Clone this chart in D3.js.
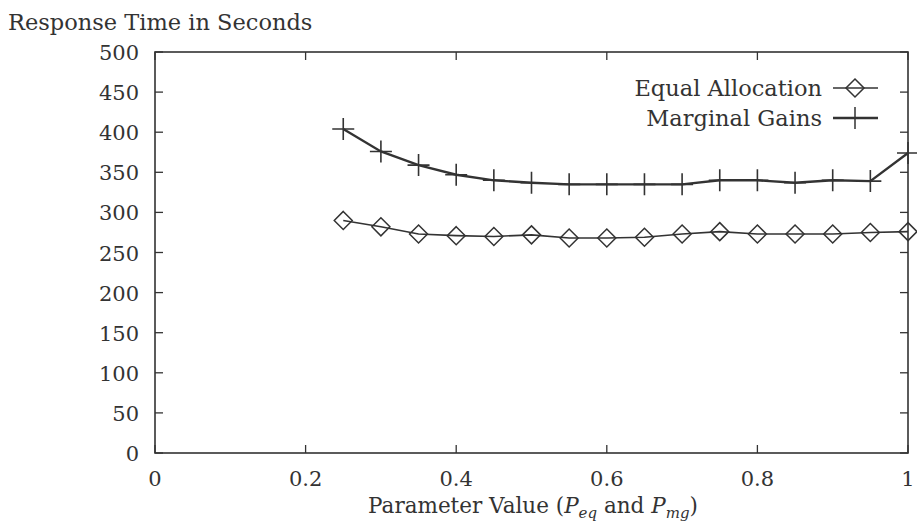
<!DOCTYPE html>
<html>
<head>
<meta charset="utf-8">
<script src="https://cdn.jsdelivr.net/npm/d3@7"></script>
<style>
  body { margin: 0; background: #fff; }
  svg { display: block; font-family: "DejaVu Serif", "Liberation Serif", serif; }
  text { fill: #333; }
</style>
</head>
<body>
<svg id="chart" width="917" height="524"></svg>
<script>
const params = [0.25, 0.30, 0.35, 0.40, 0.45, 0.50, 0.55, 0.60, 0.65, 0.70, 0.75, 0.80, 0.85, 0.90, 0.95, 1.00];
const equalAllocation = [290, 282, 273, 271, 270, 272, 268, 268, 269, 273, 276, 273, 273, 273, 275, 276];
const marginalGains = [404, 376, 359, 347, 340, 337, 335, 335, 335, 335, 340, 340, 337, 340, 339, 374];
const xTicks = [0, 0.2, 0.4, 0.6, 0.8, 1];
const yTicks = [0, 50, 100, 150, 200, 250, 300, 350, 400, 450, 500];

const ink = '#333';
const svg = d3.select('#chart');
const margin = { top: 52, right: 9, bottom: 71, left: 155 };
const width = 917;
const height = 524;

const x = d3.scaleLinear().domain([0, 1]).range([margin.left, width - margin.right]);
const y = d3.scaleLinear().domain([0, 500]).range([height - margin.bottom, margin.top]);

// frame
svg.append('rect')
  .attr('x', x(0)).attr('y', y(500))
  .attr('width', x(1) - x(0)).attr('height', y(0) - y(500))
  .attr('fill', 'none').attr('stroke', ink).attr('stroke-width', 1.6);

// ticks, inward on all four sides
const tickLen = 8;
svg.append('g').selectAll('line').data(xTicks).join('line')
  .attr('x1', d => x(d)).attr('x2', d => x(d))
  .attr('y1', y(0)).attr('y2', y(0) - tickLen)
  .attr('stroke', ink).attr('stroke-width', 1.3);
svg.append('g').selectAll('line').data(xTicks).join('line')
  .attr('x1', d => x(d)).attr('x2', d => x(d))
  .attr('y1', y(500)).attr('y2', y(500) + tickLen)
  .attr('stroke', ink).attr('stroke-width', 1.3);
svg.append('g').selectAll('line').data(yTicks).join('line')
  .attr('x1', x(0)).attr('x2', x(0) + tickLen)
  .attr('y1', d => y(d)).attr('y2', d => y(d))
  .attr('stroke', ink).attr('stroke-width', 1.3);
svg.append('g').selectAll('line').data(yTicks).join('line')
  .attr('x1', x(1)).attr('x2', x(1) - tickLen)
  .attr('y1', d => y(d)).attr('y2', d => y(d))
  .attr('stroke', ink).attr('stroke-width', 1.3);

// tick labels
svg.append('g').selectAll('text').data(xTicks).join('text')
  .attr('x', d => x(d)).attr('y', y(0) + 33)
  .attr('text-anchor', 'middle').attr('font-size', 21)
  .text(d => d);
svg.append('g').selectAll('text').data(yTicks).join('text')
  .attr('x', x(0) - 16).attr('y', d => y(d) + 8)
  .attr('text-anchor', 'end').attr('font-size', 21)
  .text(d => d);

// axis titles
svg.append('text')
  .attr('x', 8).attr('y', 30).attr('font-size', 22.5)
  .text('Response Time in Seconds');

const xl = svg.append('text')
  .attr('x', 533).attr('y', 513).attr('text-anchor', 'middle').attr('font-size', 21.5);
xl.append('tspan').text('Parameter Value (');
xl.append('tspan').attr('font-style', 'italic').text('P');
xl.append('tspan').attr('font-style', 'italic').attr('font-size', 15).attr('dy', 5).text('eq');
xl.append('tspan').attr('dy', -5).text(' and ');
xl.append('tspan').attr('font-style', 'italic').text('P');
xl.append('tspan').attr('font-style', 'italic').attr('font-size', 15).attr('dy', 5).text('mg');
xl.append('tspan').attr('dy', -5).text(')');

// series
const line = d3.line().x(d => x(d[0])).y(d => y(d[1]));
const eqData = params.map((p, i) => [p, equalAllocation[i]]);
const mgData = params.map((p, i) => [p, marginalGains[i]]);

svg.append('path').datum(eqData).attr('d', line)
  .attr('fill', 'none').attr('stroke', ink).attr('stroke-width', 1.6);
svg.append('path').datum(mgData).attr('d', line)
  .attr('fill', 'none').attr('stroke', ink).attr('stroke-width', 2.4);

const diamond = (cx, cy, r) => `M${cx},${cy - r}L${cx + r},${cy}L${cx},${cy + r}L${cx - r},${cy}Z`;
const plus = (cx, cy, r) => `M${cx - r},${cy}H${cx + r}M${cx},${cy - r}V${cy + r}`;

svg.append('g').selectAll('path').data(eqData).join('path')
  .attr('d', d => diamond(x(d[0]), y(d[1]), 9))
  .attr('fill', 'none').attr('stroke', ink).attr('stroke-width', 1.5);
svg.append('g').selectAll('path').data(mgData).join('path')
  .attr('d', d => plus(x(d[0]), y(d[1]), 11))
  .attr('fill', 'none').attr('stroke', ink).attr('stroke-width', 1.6);

// legend
const legend = [
  { label: 'Equal Allocation', mark: diamond, r: 9, w: 1.6, y: 88 },
  { label: 'Marginal Gains', mark: plus, r: 11, w: 2.4, y: 118 }
];
legend.forEach(l => {
  svg.append('text').attr('x', 822).attr('y', l.y + 8)
    .attr('text-anchor', 'end').attr('font-size', 22.5).text(l.label);
  svg.append('line').attr('x1', 833).attr('x2', 878).attr('y1', l.y).attr('y2', l.y)
    .attr('stroke', ink).attr('stroke-width', l.w);
  svg.append('path').attr('d', l.mark(855, l.y, l.r))
    .attr('fill', 'none').attr('stroke', ink).attr('stroke-width', 1.5);
});
</script>
</body>
</html>
